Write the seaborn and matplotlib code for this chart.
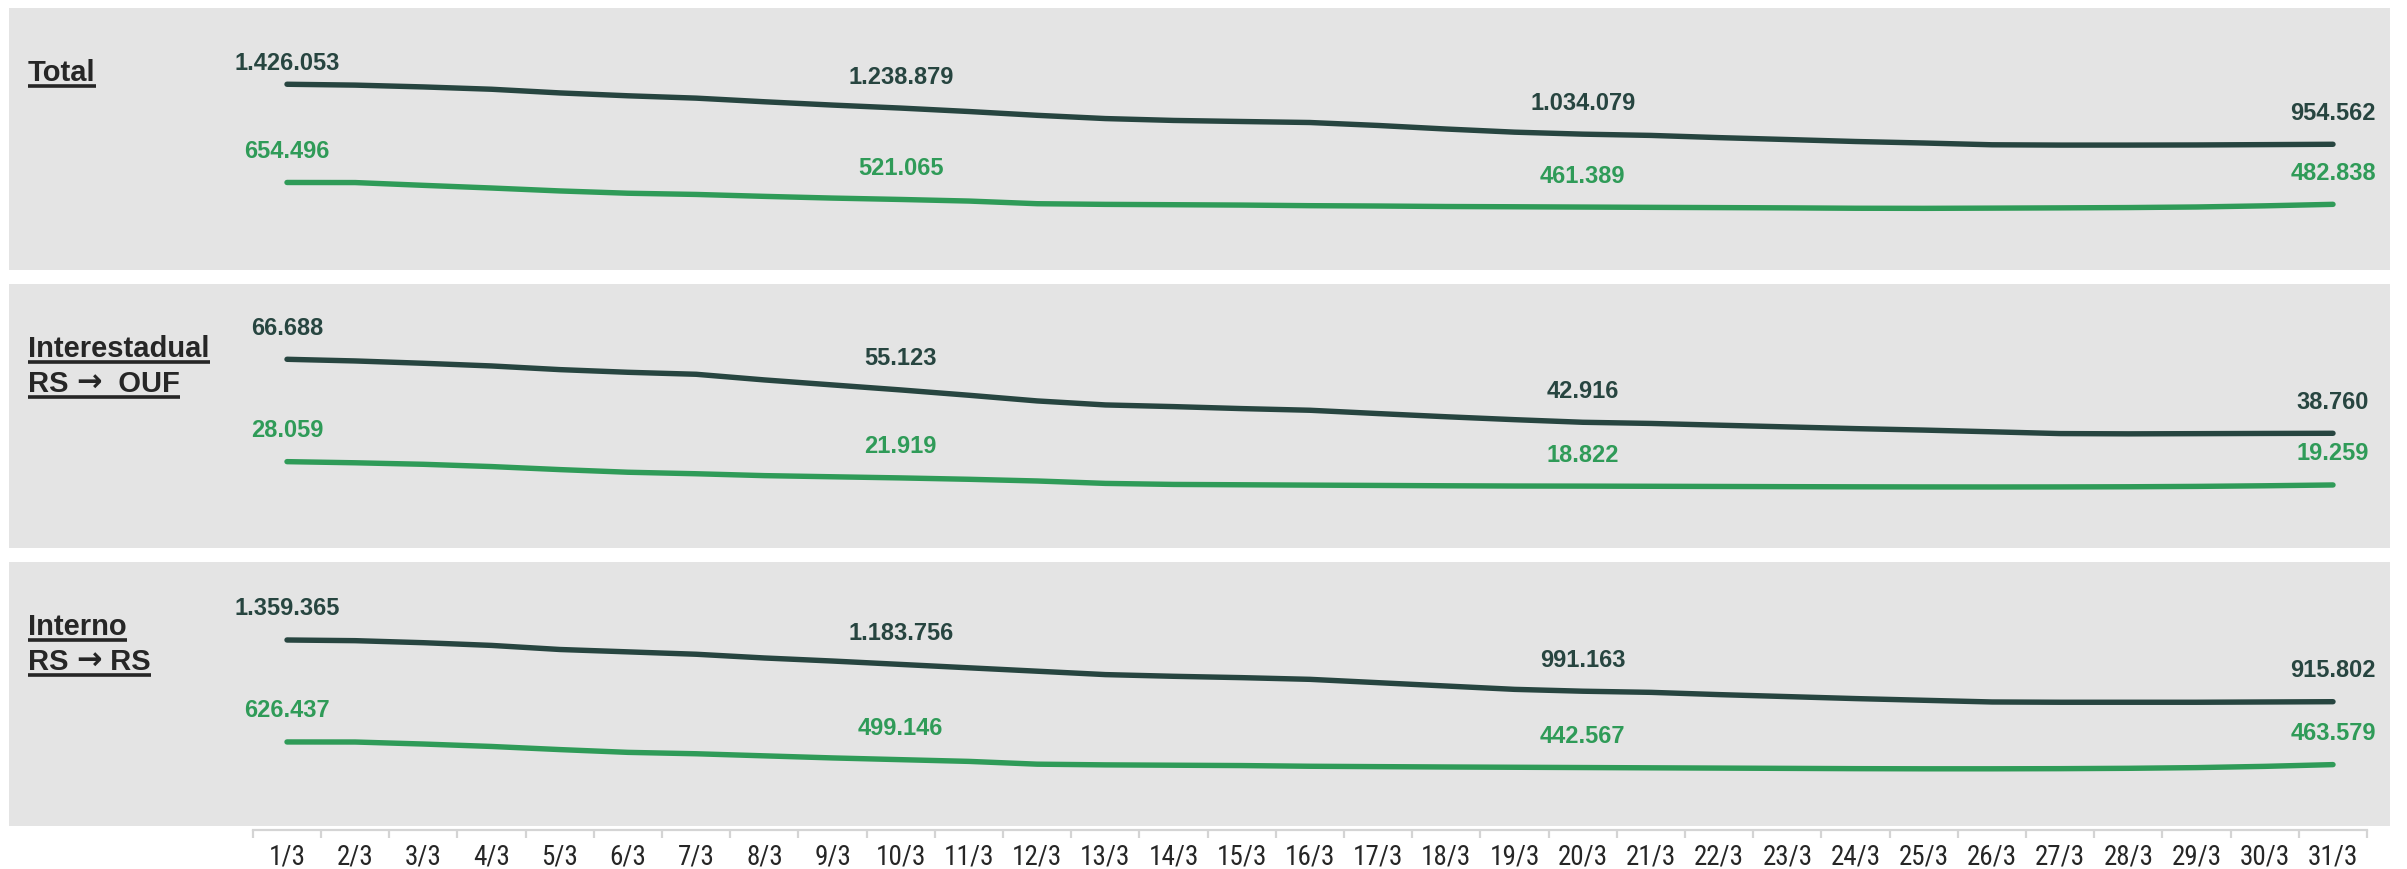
import numpy as np
import pandas as pd
import matplotlib
matplotlib.use("Agg")
import matplotlib.pyplot as plt
import seaborn as sns
from matplotlib import font_manager
from matplotlib.lines import Line2D

# ---------------- data ----------------
days = [f"{d}/3" for d in range(1, 32)]

total_dark = [1426053, 1419300, 1405000, 1386800, 1358000, 1335400, 1317000, 1288500, 1262500, 1238879,
              1211900, 1182000, 1156500, 1141800, 1133400, 1125500, 1102300, 1074300, 1049700, 1034079,
              1024200, 1006800, 991800, 976400, 964500, 950600, 948200, 948200, 949200, 951800, 954562]
total_green = [654496, 653800, 632000, 611000, 588000, 570000, 560500, 545400, 531900, 521065,
               508500, 487700, 482500, 479800, 477000, 472200, 469500, 465700, 463700, 461389,
               459100, 457100, 455000, 452000, 451300, 453000, 455000, 457500, 462000, 471000, 482838]

inter_dark = [66688, 66060, 65180, 64170, 62790, 61780, 61030, 58900, 57010, 55123,
              53110, 50970, 49460, 48830, 48080, 47450, 46200, 45000, 43900, 42916,
              42480, 41820, 41170, 40520, 39970, 39320, 38650, 38550, 38620, 38700, 38760]
inter_green = [28059, 27630, 27060, 26200, 25060, 24060, 23490, 22780, 22350, 21919,
               21400, 20760, 19850, 19460, 19330, 19200, 19080, 18950, 18860, 18822,
               18760, 18690, 18620, 18560, 18520, 18500, 18520, 18580, 18720, 18950, 19259]

interno_dark = [1359365, 1354500, 1339900, 1320400, 1291100, 1274000, 1256900, 1230100, 1208100, 1183756,
                1159400, 1135000, 1110600, 1098400, 1088700, 1076500, 1052500, 1028500, 1004500, 991163,
                983000, 966700, 952500, 938200, 926000, 913800, 911800, 911800, 911800, 913800, 915802]
interno_green = [626437, 626000, 611500, 594000, 571600, 551600, 541600, 526600, 511600, 499146,
                 486700, 466700, 461700, 459200, 456700, 451700, 449000, 446500, 444500, 442567,
                 440500, 438500, 436500, 434500, 433500, 433500, 434500, 437000, 442000, 451000, 463579]

# title lines, split into pieces (text, is_arrow)
panel_titles = [
    [[("Total", False)]],
    [[("Interestadual", False)], [("RS ", False), ("\u2192", True), ("  OUF", False)]],
    [[("Interno", False)], [("RS ", False), ("\u2192", True), (" RS", False)]],
]
label_days = [1, 10, 20, 31]

# ---------------- style ----------------
sns.set_style("white")
names = {f.name for f in font_manager.fontManager.ttflist}
BASE = ["Liberation Sans", "DejaVu Sans"]
plt.rcParams["font.family"] = BASE
narrow = [n for n in ("Liberation Sans Narrow", "Roboto Condensed", "Open Sans Condensed") if n in names]
if narrow:
    tick_family = [narrow[0]] + BASE
    tick_size = 19.5
else:
    tick_family = BASE
    tick_size = 16

DARK = "#274540"
GREEN = "#2F9B58"
PANEL_BG = "#E4E4E4"
TEXT = "#262626"
AXIS = "#D4D4D4"

W, H = 2407, 869
DPI = 100
fig = plt.figure(figsize=(W / DPI, H / DPI), dpi=DPI, facecolor="white")

# day index i -> pixel x = 287 + 68.2*i ; panel spans 9..2390 px
px0, pstep = 287.0, 68.2
xlim = ((9 - px0) / pstep, (2390 - px0) / pstep)

panels_px = [(8, 270), (284, 548), (562, 826)]
ylims = [(-33000, 2025000), (-4530, 95100), (22300, 1920000)]
series = [(total_dark, total_green), (inter_dark, inter_green), (interno_dark, interno_green)]

left = 9 / W
width = (2390 - 9) / W
for (top, bot), yl, (sd, sg) in zip(panels_px, ylims, series):
    ax = fig.add_axes([left, 1 - bot / H, width, (bot - top) / H])
    ax.set_facecolor(PANEL_BG)
    df = pd.DataFrame({"i": np.arange(len(days)), "dark": sd, "green": sg})
    sns.lineplot(data=df, x="i", y="dark", ax=ax, color=DARK, linewidth=3.9,
                 solid_capstyle="round", solid_joinstyle="round")
    sns.lineplot(data=df, x="i", y="green", ax=ax, color=GREEN, linewidth=3.9,
                 solid_capstyle="round", solid_joinstyle="round")
    ax.set_xlim(*xlim)
    ax.set_ylim(*yl)
    ax.set_xticks([]); ax.set_yticks([])
    ax.set_xlabel(""); ax.set_ylabel("")
    for s in ax.spines.values():
        s.set_visible(False)
    for d in label_days:
        i = d - 1
        for vals, col in ((sd, DARK), (sg, GREEN)):
            off = 31
            if vals is total_dark and d == 1:
                off = 21
            ax.annotate(f"{vals[i]:,}".replace(",", "."), (i, vals[i]),
                        xytext=(0, off * 72 / DPI), textcoords="offset points",
                        ha="center", va="center", fontsize=17, fontweight="bold",
                        color=col)

# x axis (category ticks between days)
axx = fig.add_axes([left, 1 - 830 / H, width, 0.001])
axx.patch.set_alpha(0)
axx.set_xlim(*xlim)
axx.set_yticks([])
for k in ("top", "left", "right"):
    axx.spines[k].set_visible(False)
axx.spines["bottom"].set_color(AXIS)
axx.spines["bottom"].set_linewidth(1.6)
axx.spines["bottom"].set_bounds(-0.5, len(days) - 0.5)
axx.set_xticks(np.arange(len(days)))
axx.set_xticklabels(days, fontsize=tick_size, color=TEXT, family=tick_family)
axx.set_xticks(np.arange(len(days) + 1) - 0.5, minor=True)
axx.tick_params(axis="x", which="both", bottom=True, direction="out")
axx.tick_params(axis="x", which="major", length=0, pad=10)
axx.tick_params(axis="x", which="minor", length=5.5, width=1.6, color=AXIS)

# panel titles with underline
fig.canvas.draw()
renderer = fig.canvas.get_renderer()
for (top, bot), lines in zip(panels_px, panel_titles):
    for j, pieces in enumerate(lines):
        base = top + 73 + 35 * j
        x = 28.0
        x_start = x
        for txt, is_arrow in pieces:
            fam = ["DejaVu Sans"] if is_arrow else BASE
            fs = 22 if is_arrow else 21
            t = fig.text(x / W, 1 - base / H, txt, fontsize=fs, fontweight="bold",
                         color=TEXT, ha="left", va="baseline", family=fam)
            bb = t.get_window_extent(renderer)
            x = bb.x1 if not txt.endswith(" ") else x + bb.width
        yy = 1 - (base + 5) / H
        fig.add_artist(Line2D([x_start / W, x / W], [yy, yy], transform=fig.transFigure,
                              color=TEXT, linewidth=2.6, solid_capstyle="butt"))

fig.savefig("out.png", dpi=DPI, facecolor="white")
